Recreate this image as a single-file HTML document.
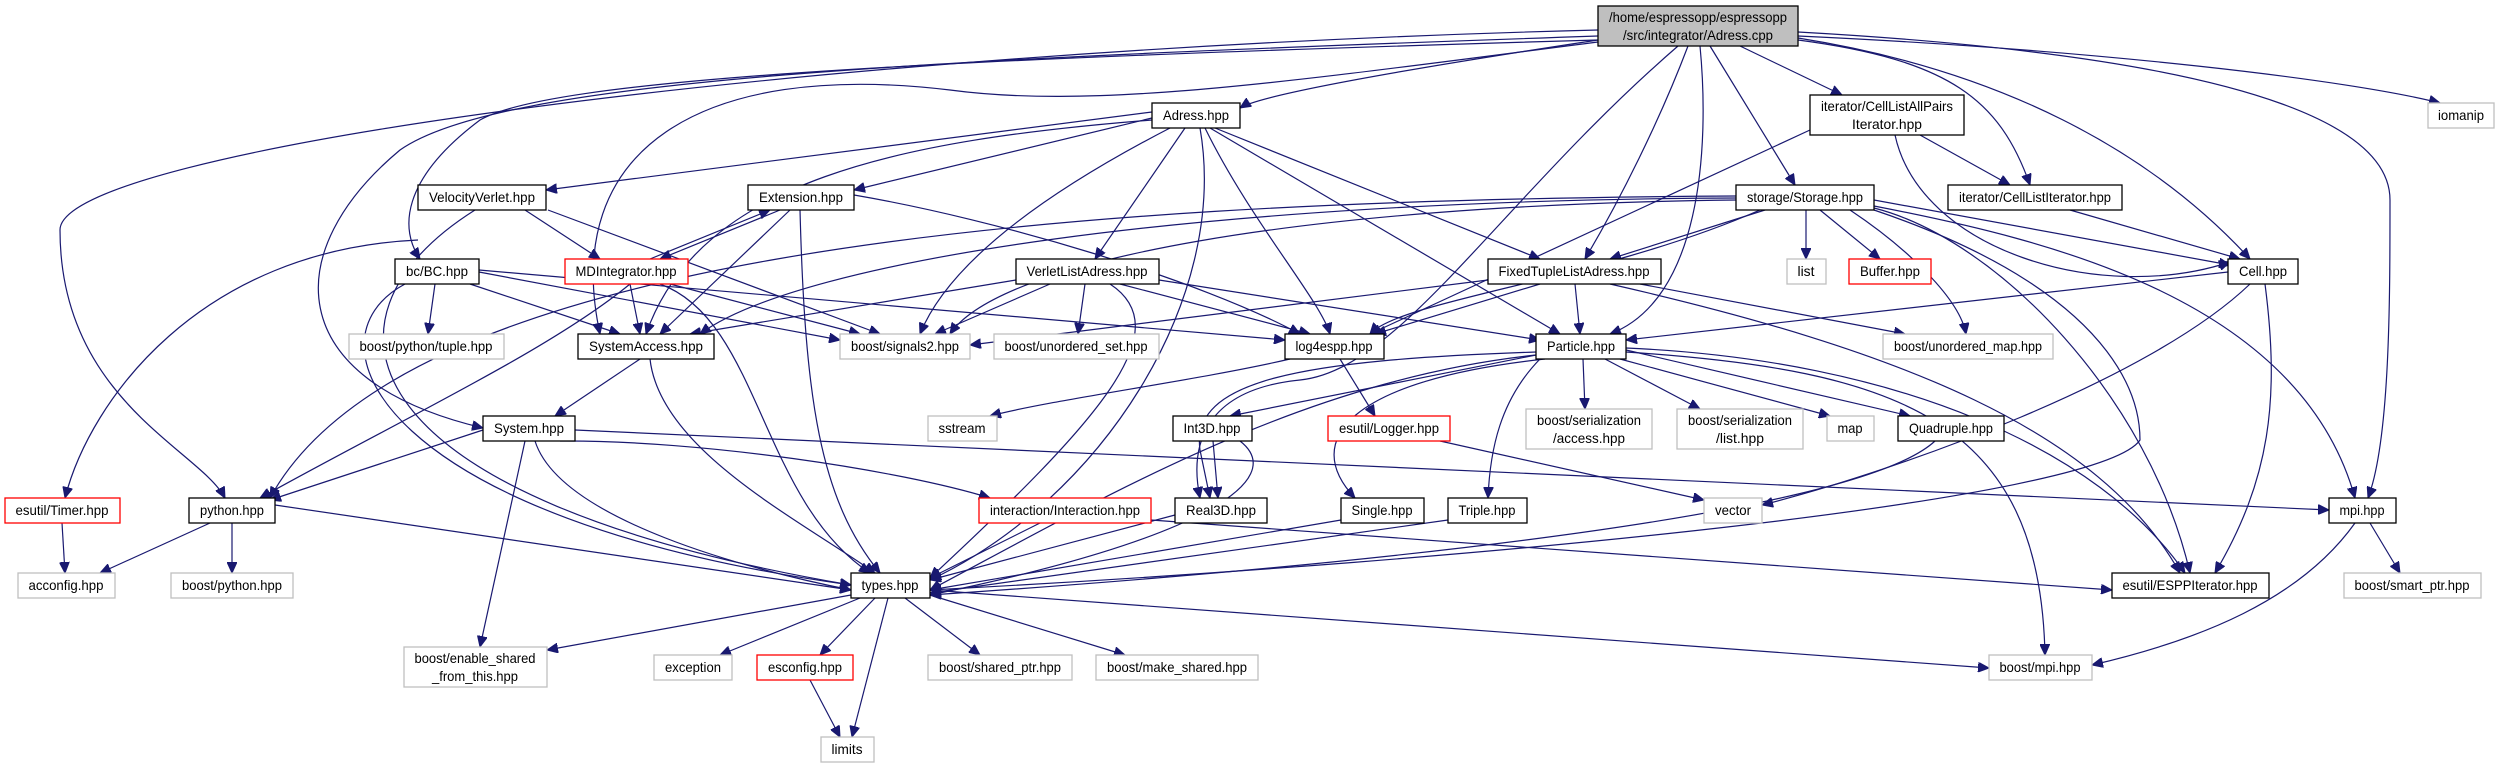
<!DOCTYPE html>
<html><head><meta charset="utf-8"><style>
html,body{margin:0;padding:0;background:#fff;}
svg{display:block;}
text{font-family:"Liberation Sans",sans-serif;font-size:14px;fill:#000;}
.e{fill:none;stroke:#191970;stroke-width:1.2;marker-end:url(#a);}
.b{fill:#fff;stroke:#000;stroke-width:1.3;}
.g{fill:#fff;stroke:#bfbfbf;stroke-width:1.3;}
.r{fill:#fff;stroke:#ff0000;stroke-width:1.3;}
</style></head><body>
<svg width="2507" height="768" viewBox="0 0 2507 768" xmlns="http://www.w3.org/2000/svg">
<defs><marker id="a" markerUnits="userSpaceOnUse" markerWidth="12" markerHeight="10" refX="11" refY="5" orient="auto"><path d="M0,0 L11,5 L0,10 z" fill="#191970" stroke="#191970"/></marker></defs>
<g>
<path class="e" d="M1598,40 C1400,70 1260,95 1240,108"/>
<path class="e" d="M1798,36 C2100,50 2350,80 2440,103"/>
<path class="e" d="M1740,46 L1842,95"/>
<path class="e" d="M1798,40 C1950,60 2000,100 2030,185"/>
<path class="e" d="M1798,38 C2000,70 2150,150 2250,259"/>
<path class="e" d="M1798,32 C2300,60 2390,140 2390,200 C2390,300 2390,440 2368,498"/>
<path class="e" d="M1710,46 L1795,185"/>
<path class="e" d="M1688,46 C1660,120 1620,200 1585,259"/>
<path class="e" d="M1700,46 C1710,150 1700,300 1610,334"/>
<path class="e" d="M1678,46 C1500,200 1400,370 1300,380 C1200,390 1190,450 1200,498"/>
<path class="e" d="M1598,30 C800,50 60,150 60,230 C60,400 200,450 225,498"/>
<path class="e" d="M1598,36 C900,60 500,80 400,150 C280,250 280,380 483,428"/>
<path class="e" d="M1598,40 C900,60 550,80 480,120 C400,180 400,230 420,259"/>
<path class="e" d="M1598,42 C1300,80 1100,110 950,90 C700,60 560,150 600,334"/>
<path class="e" d="M1152,112 L546,190"/>
<path class="e" d="M1152,118 L854,190"/>
<path class="e" d="M1185,128 L1095,259"/>
<path class="e" d="M1170,128 C1050,190 950,260 920,334"/>
<path class="e" d="M1205,128 C1250,220 1320,300 1330,334"/>
<path class="e" d="M1215,128 L1540,259"/>
<path class="e" d="M1210,128 L1560,334"/>
<path class="e" d="M1152,120 C900,140 700,180 646,334"/>
<path class="e" d="M1200,128 C1230,300 1100,500 930,580"/>
<path class="e" d="M525,210 L600,259"/>
<path class="e" d="M548,210 L880,334"/>
<path class="e" d="M418,240 C200,250 90,400 65,498"/>
<path class="e" d="M475,210 C300,320 350,500 851,585"/>
<path class="e" d="M780,210 L660,259"/>
<path class="e" d="M650,259 L770,210"/>
<path class="e" d="M790,210 L660,334"/>
<path class="e" d="M800,210 C805,400 820,500 880,573"/>
<path class="e" d="M854,195 C1000,220 1200,280 1300,334"/>
<path class="e" d="M630,284 L640,334"/>
<path class="e" d="M670,284 L860,334"/>
<path class="e" d="M630,284 C550,350 400,420 260,498"/>
<path class="e" d="M660,284 C760,320 760,500 870,573"/>
<path class="e" d="M435,284 L428,334"/>
<path class="e" d="M470,284 L620,334"/>
<path class="e" d="M479,272 L840,340"/>
<path class="e" d="M479,270 L1285,340"/>
<path class="e" d="M405,284 C300,340 380,520 851,585"/>
<path class="e" d="M1085,284 L1078,334"/>
<path class="e" d="M1050,284 L935,334"/>
<path class="e" d="M1016,280 L690,334"/>
<path class="e" d="M1120,284 L1310,334"/>
<path class="e" d="M1159,280 L1540,340"/>
<path class="e" d="M1110,284 C1180,330 1100,420 930,578"/>
<path class="e" d="M1760,210 C1600,280 1400,300 1370,334"/>
<path class="e" d="M1765,210 L1610,259"/>
<path class="e" d="M1806,210 L1806,259"/>
<path class="e" d="M1820,210 L1880,259"/>
<path class="e" d="M1850,210 C1910,250 1960,300 1966,334"/>
<path class="e" d="M1874,200 L2230,265"/>
<path class="e" d="M1736,200 C1300,205 1000,260 950,334"/>
<path class="e" d="M1736,198 C1200,200 800,260 700,334"/>
<path class="e" d="M1736,196 C1000,200 400,260 270,498"/>
<path class="e" d="M1874,210 C2140,300 2140,420 2140,440 C2100,500 1500,560 930,590"/>
<path class="e" d="M1874,206 C2050,240 2300,300 2355,498"/>
<path class="e" d="M1874,208 C2000,240 2150,400 2190,573"/>
<path class="e" d="M1920,135 L2010,185"/>
<path class="e" d="M1895,135 C1920,250 2100,305 2230,262"/>
<path class="e" d="M1810,130 L1370,334"/>
<path class="e" d="M2070,210 L2240,259"/>
<path class="e" d="M1575,284 L1580,334"/>
<path class="e" d="M1540,284 L1375,334"/>
<path class="e" d="M1640,284 L1905,334"/>
<path class="e" d="M1610,284 C1900,350 2100,430 2180,573"/>
<path class="e" d="M1488,280 L970,345"/>
<path class="e" d="M2228,272 L1626,340"/>
<path class="e" d="M2250,284 C2150,380 1900,470 1762,505"/>
<path class="e" d="M2265,284 C2280,400 2270,480 2215,573"/>
<path class="e" d="M640,359 L555,416"/>
<path class="e" d="M650,359 C660,450 800,520 875,573"/>
<path class="e" d="M483,430 L270,500"/>
<path class="e" d="M560,441 C700,440 900,470 990,498"/>
<path class="e" d="M535,441 C560,520 750,570 851,590"/>
<path class="e" d="M575,430 L2329,510"/>
<path class="e" d="M525,441 L480,647"/>
<path class="e" d="M1340,359 L1375,416"/>
<path class="e" d="M1290,359 C1200,380 1050,400 990,416"/>
<path class="e" d="M1536,355 L1230,416"/>
<path class="e" d="M1536,352 C1300,360 1190,380 1200,450 L1210,498"/>
<path class="e" d="M1545,359 C1350,380 1300,440 1355,498"/>
<path class="e" d="M1540,359 C1500,400 1490,450 1488,498"/>
<path class="e" d="M1583,359 L1585,409"/>
<path class="e" d="M1605,359 L1700,409"/>
<path class="e" d="M1620,359 L1830,416"/>
<path class="e" d="M1626,350 L1910,416"/>
<path class="e" d="M1536,355 C1300,380 1100,500 930,590"/>
<path class="e" d="M1626,352 C1900,370 2040,420 2045,655"/>
<path class="e" d="M1626,348 C1900,360 2100,450 2185,573"/>
<path class="e" d="M1440,441 L1704,500"/>
<path class="e" d="M1213,441 L1218,498"/>
<path class="e" d="M1240,441 C1290,480 1200,540 930,595"/>
<path class="e" d="M1175,515 L930,580"/>
<path class="e" d="M1341,520 L930,590"/>
<path class="e" d="M1448,520 L930,593"/>
<path class="e" d="M1935,441 C1850,520 1300,570 930,595"/>
<path class="e" d="M1040,523 L930,578"/>
<path class="e" d="M1151,520 L2112,590"/>
<path class="e" d="M210,523 L100,573"/>
<path class="e" d="M232,523 L232,573"/>
<path class="e" d="M275,505 L851,590"/>
<path class="e" d="M62,523 L65,573"/>
<path class="e" d="M851,595 L547,650"/>
<path class="e" d="M860,598 L720,655"/>
<path class="e" d="M875,598 L820,655"/>
<path class="e" d="M888,598 L852,737"/>
<path class="e" d="M905,598 L980,655"/>
<path class="e" d="M930,595 L1125,655"/>
<path class="e" d="M930,590 L1989,668"/>
<path class="e" d="M810,680 L840,737"/>
<path class="e" d="M2355,523 C2300,600 2200,640 2092,665"/>
<path class="e" d="M2370,523 L2400,573"/>
</g>
<g>
<rect x="1598" y="6" width="200" height="40" fill="#bfbfbf" stroke="#000" stroke-width="1.3"/>
<text x="1698" y="22" text-anchor="middle" textLength="178" lengthAdjust="spacingAndGlyphs">/home/espressopp/espressopp</text>
<text x="1698" y="40" text-anchor="middle" textLength="150" lengthAdjust="spacingAndGlyphs">/src/integrator/Adress.cpp</text>

<rect class="b" x="1152" y="103" width="88" height="25"/><text x="1196" y="120" text-anchor="middle" textLength="66" lengthAdjust="spacingAndGlyphs">Adress.hpp</text>
<rect class="g" x="2428" y="103" width="66" height="25"/><text x="2461" y="120" text-anchor="middle" textLength="46" lengthAdjust="spacingAndGlyphs">iomanip</text>
<rect class="b" x="1810" y="95" width="154" height="40"/>
<text x="1887" y="111" text-anchor="middle" textLength="132" lengthAdjust="spacingAndGlyphs">iterator/CellListAllPairs</text>
<text x="1887" y="129" text-anchor="middle" textLength="70" lengthAdjust="spacingAndGlyphs">Iterator.hpp</text>

<rect class="b" x="418" y="185" width="128" height="25"/><text x="482" y="202" text-anchor="middle" textLength="106" lengthAdjust="spacingAndGlyphs">VelocityVerlet.hpp</text>
<rect class="b" x="748" y="185" width="106" height="25"/><text x="801" y="202" text-anchor="middle" textLength="84" lengthAdjust="spacingAndGlyphs">Extension.hpp</text>
<rect class="b" x="1736" y="185" width="138" height="25"/><text x="1805" y="202" text-anchor="middle" textLength="116" lengthAdjust="spacingAndGlyphs">storage/Storage.hpp</text>
<rect class="b" x="1948" y="185" width="174" height="25"/><text x="2035" y="202" text-anchor="middle" textLength="152" lengthAdjust="spacingAndGlyphs">iterator/CellListIterator.hpp</text>

<rect class="b" x="395" y="259" width="84" height="25"/><text x="437" y="276" text-anchor="middle" textLength="62" lengthAdjust="spacingAndGlyphs">bc/BC.hpp</text>
<rect class="r" x="565" y="259" width="123" height="25"/><text x="626" y="276" text-anchor="middle" textLength="101" lengthAdjust="spacingAndGlyphs">MDIntegrator.hpp</text>
<rect class="b" x="1016" y="259" width="143" height="25"/><text x="1087" y="276" text-anchor="middle" textLength="121" lengthAdjust="spacingAndGlyphs">VerletListAdress.hpp</text>
<rect class="b" x="1488" y="259" width="173" height="25"/><text x="1574" y="276" text-anchor="middle" textLength="151" lengthAdjust="spacingAndGlyphs">FixedTupleListAdress.hpp</text>
<rect class="g" x="1787" y="259" width="39" height="25"/><text x="1806" y="276" text-anchor="middle" textLength="17" lengthAdjust="spacingAndGlyphs">list</text>
<rect class="r" x="1849" y="259" width="82" height="25"/><text x="1890" y="276" text-anchor="middle" textLength="60" lengthAdjust="spacingAndGlyphs">Buffer.hpp</text>
<rect class="b" x="2228" y="259" width="70" height="25"/><text x="2263" y="276" text-anchor="middle" textLength="48" lengthAdjust="spacingAndGlyphs">Cell.hpp</text>

<rect class="g" x="349" y="334" width="155" height="25"/><text x="426" y="351" text-anchor="middle" textLength="133" lengthAdjust="spacingAndGlyphs">boost/python/tuple.hpp</text>
<rect class="b" x="578" y="334" width="136" height="25"/><text x="646" y="351" text-anchor="middle" textLength="114" lengthAdjust="spacingAndGlyphs">SystemAccess.hpp</text>
<rect class="g" x="840" y="334" width="130" height="25"/><text x="905" y="351" text-anchor="middle" textLength="108" lengthAdjust="spacingAndGlyphs">boost/signals2.hpp</text>
<rect class="g" x="994" y="334" width="165" height="25"/><text x="1076" y="351" text-anchor="middle" textLength="143" lengthAdjust="spacingAndGlyphs">boost/unordered_set.hpp</text>
<rect class="b" x="1285" y="334" width="99" height="25"/><text x="1334" y="351" text-anchor="middle" textLength="77" lengthAdjust="spacingAndGlyphs">log4espp.hpp</text>
<rect class="b" x="1536" y="334" width="90" height="25"/><text x="1581" y="351" text-anchor="middle" textLength="68" lengthAdjust="spacingAndGlyphs">Particle.hpp</text>
<rect class="g" x="1883" y="334" width="170" height="25"/><text x="1968" y="351" text-anchor="middle" textLength="148" lengthAdjust="spacingAndGlyphs">boost/unordered_map.hpp</text>

<rect class="b" x="483" y="416" width="92" height="25"/><text x="529" y="433" text-anchor="middle" textLength="70" lengthAdjust="spacingAndGlyphs">System.hpp</text>
<rect class="g" x="928" y="416" width="69" height="25"/><text x="962" y="433" text-anchor="middle" textLength="47" lengthAdjust="spacingAndGlyphs">sstream</text>
<rect class="b" x="1173" y="416" width="79" height="25"/><text x="1212" y="433" text-anchor="middle" textLength="57" lengthAdjust="spacingAndGlyphs">Int3D.hpp</text>
<rect class="r" x="1328" y="416" width="122" height="25"/><text x="1389" y="433" text-anchor="middle" textLength="100" lengthAdjust="spacingAndGlyphs">esutil/Logger.hpp</text>
<rect class="g" x="1526" y="409" width="126" height="40"/>
<text x="1589" y="425" text-anchor="middle" textLength="104" lengthAdjust="spacingAndGlyphs">boost/serialization</text>
<text x="1589" y="443" text-anchor="middle" textLength="72" lengthAdjust="spacingAndGlyphs">/access.hpp</text>
<rect class="g" x="1677" y="409" width="126" height="40"/>
<text x="1740" y="425" text-anchor="middle" textLength="104" lengthAdjust="spacingAndGlyphs">boost/serialization</text>
<text x="1740" y="443" text-anchor="middle" textLength="48" lengthAdjust="spacingAndGlyphs">/list.hpp</text>
<rect class="g" x="1827" y="416" width="47" height="25"/><text x="1850" y="433" text-anchor="middle" textLength="25" lengthAdjust="spacingAndGlyphs">map</text>
<rect class="b" x="1898" y="416" width="106" height="25"/><text x="1951" y="433" text-anchor="middle" textLength="84" lengthAdjust="spacingAndGlyphs">Quadruple.hpp</text>

<rect class="r" x="5" y="498" width="115" height="25"/><text x="62" y="515" text-anchor="middle" textLength="93" lengthAdjust="spacingAndGlyphs">esutil/Timer.hpp</text>
<rect class="b" x="189" y="498" width="86" height="25"/><text x="232" y="515" text-anchor="middle" textLength="64" lengthAdjust="spacingAndGlyphs">python.hpp</text>
<rect class="r" x="979" y="498" width="172" height="25"/><text x="1065" y="515" text-anchor="middle" textLength="150" lengthAdjust="spacingAndGlyphs">interaction/Interaction.hpp</text>
<rect class="b" x="1175" y="498" width="92" height="25"/><text x="1221" y="515" text-anchor="middle" textLength="70" lengthAdjust="spacingAndGlyphs">Real3D.hpp</text>
<rect class="b" x="1341" y="498" width="83" height="25"/><text x="1382" y="515" text-anchor="middle" textLength="61" lengthAdjust="spacingAndGlyphs">Single.hpp</text>
<rect class="b" x="1448" y="498" width="79" height="25"/><text x="1487" y="515" text-anchor="middle" textLength="57" lengthAdjust="spacingAndGlyphs">Triple.hpp</text>
<rect class="g" x="1704" y="498" width="58" height="25"/><text x="1733" y="515" text-anchor="middle" textLength="36" lengthAdjust="spacingAndGlyphs">vector</text>
<rect class="b" x="2329" y="498" width="67" height="25"/><text x="2362" y="515" text-anchor="middle" textLength="45" lengthAdjust="spacingAndGlyphs">mpi.hpp</text>

<rect class="g" x="18" y="573" width="97" height="25"/><text x="66" y="590" text-anchor="middle" textLength="75" lengthAdjust="spacingAndGlyphs">acconfig.hpp</text>
<rect class="g" x="171" y="573" width="122" height="25"/><text x="232" y="590" text-anchor="middle" textLength="100" lengthAdjust="spacingAndGlyphs">boost/python.hpp</text>
<rect class="b" x="851" y="573" width="79" height="25"/><text x="890" y="590" text-anchor="middle" textLength="57" lengthAdjust="spacingAndGlyphs">types.hpp</text>
<rect class="b" x="2112" y="573" width="157" height="25"/><text x="2190" y="590" text-anchor="middle" textLength="135" lengthAdjust="spacingAndGlyphs">esutil/ESPPIterator.hpp</text>
<rect class="g" x="2344" y="573" width="137" height="25"/><text x="2412" y="590" text-anchor="middle" textLength="115" lengthAdjust="spacingAndGlyphs">boost/smart_ptr.hpp</text>

<rect class="g" x="404" y="647" width="143" height="40"/>
<text x="475" y="663" text-anchor="middle" textLength="121" lengthAdjust="spacingAndGlyphs">boost/enable_shared</text>
<text x="475" y="681" text-anchor="middle" textLength="86" lengthAdjust="spacingAndGlyphs">_from_this.hpp</text>
<rect class="g" x="654" y="655" width="78" height="25"/><text x="693" y="672" text-anchor="middle" textLength="56" lengthAdjust="spacingAndGlyphs">exception</text>
<rect class="r" x="757" y="655" width="96" height="25"/><text x="805" y="672" text-anchor="middle" textLength="74" lengthAdjust="spacingAndGlyphs">esconfig.hpp</text>
<rect class="g" x="928" y="655" width="144" height="25"/><text x="1000" y="672" text-anchor="middle" textLength="122" lengthAdjust="spacingAndGlyphs">boost/shared_ptr.hpp</text>
<rect class="g" x="1096" y="655" width="162" height="25"/><text x="1177" y="672" text-anchor="middle" textLength="140" lengthAdjust="spacingAndGlyphs">boost/make_shared.hpp</text>
<rect class="g" x="1989" y="655" width="103" height="25"/><text x="2040" y="672" text-anchor="middle" textLength="81" lengthAdjust="spacingAndGlyphs">boost/mpi.hpp</text>
<rect class="g" x="821" y="737" width="53" height="25"/><text x="847" y="754" text-anchor="middle" textLength="31" lengthAdjust="spacingAndGlyphs">limits</text>
</g>
</svg>
</body></html>
